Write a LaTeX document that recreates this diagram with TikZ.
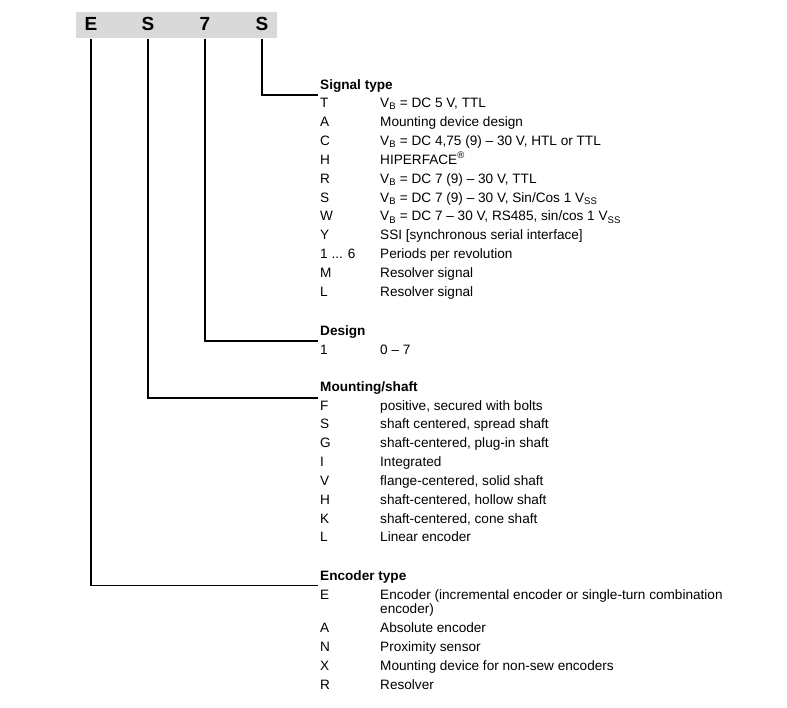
\documentclass[tikz,border=0pt]{standalone}
\usepackage{fontspec}
\setmainfont{Liberation Sans}
\usetikzlibrary{positioning}

\newcommand{\bodysize}{\fontsize{13.6}{16}\selectfont}

\tikzset{
  typebar/.style={fill=black!15, inner sep=0pt, minimum width=201pt, minimum height=25.5pt},
  letter/.style={font=\fontsize{19}{21}\selectfont\bfseries, inner sep=0pt, anchor=base},
  heading/.style={font=\bodysize\bfseries, inner sep=0pt, anchor=base west},
  code/.style={font=\bodysize, inner sep=0pt, anchor=base west},
  descr/.style={font=\bodysize, inner sep=0pt, anchor=base west},
  leader/.style={line width=1.7pt, shorten <=1.5pt}
}

\begin{document}
\begin{tikzpicture}[x=1pt, y=-1pt]
    \useasboundingbox (0,0) rectangle (787,707);

    % Type designation bar
    \node[typebar] (bar) at (176.5,25) {};
    \node[letter] (typeE) at (91,30) {E};
    \node[letter] (typeS) at (148,30) {S};
    \node[letter] (typeN) at (205,30) {7};
    \node[letter] (typeT) at (262,30) {S};

    % Signal type
    \node[heading] (sigHead) at (320,89.5) {Signal type};
    \coordinate (sigTip) at (318,95);
    \foreach \code/\descr [count=\i from 0] in {
        T/{V\textsubscript{B} = DC 5 V, TTL},
        A/Mounting device design,
        C/{V\textsubscript{B} = DC 4,75 (9) – 30 V, HTL or TTL},
        H/HIPERFACE\textsuperscript{®},
        R/{V\textsubscript{B} = DC 7 (9) – 30 V, TTL},
        S/{V\textsubscript{B} = DC 7 (9) – 30 V, Sin/Cos 1 V\textsubscript{SS}},
        W/{V\textsubscript{B} = DC 7 – 30 V, RS485, sin/cos 1 V\textsubscript{SS}},
        Y/SSI [synchronous serial interface],
        {1 ... 6}/Periods per revolution,
        M/Resolver signal,
        L/Resolver signal} {
        \node[code] (sig\i) at (320, 107.5+18.9*\i) {\code};
        \node[descr] (sigd\i) at (380, 107.5+18.9*\i) {\descr};
    }

    % Design
    \node[heading] (desHead) at (320,335.5) {Design};
    \coordinate (desTip) at (318,341);
    \node[code] (des0) at (320,354.5) {1};
    \node[descr] (desd0) at (380,354.5) {0 – 7};

    % Mounting/shaft
    \node[heading] (mntHead) at (320,391) {Mounting/shaft};
    \coordinate (mntTip) at (318,398);
    \foreach \code/\descr [count=\i from 0] in {
        F/{positive, secured with bolts},
        S/{shaft centered, spread shaft},
        G/{shaft-centered, plug-in shaft},
        I/Integrated,
        V/{flange-centered, solid shaft},
        H/{shaft-centered, hollow shaft},
        K/{shaft-centered, cone shaft},
        L/Linear encoder} {
        \node[code] (mnt\i) at (320, 410+18.85*\i) {\code};
        \node[descr] (mntd\i) at (380, 410+18.85*\i) {\descr};
    }

    % Encoder type
    \node[heading] (encHead) at (320,580) {Encoder type};
    \coordinate (encTip) at (318,585.5);
    \node[code] (encE) at (320,599.5) {E};
    \node[descr] (encdE) at (380,599.5) {Encoder (incremental encoder or single-turn combination};
    \node[descr] (encdE2) at (380,613.5) {encoder)};
    \foreach \code/\descr [count=\i from 0] in {
        A/Absolute encoder,
        N/Proximity sensor,
        X/Mounting device for non-sew encoders,
        R/Resolver} {
        \node[code] (enc\i) at (320, 632.5+18.9*\i) {\code};
        \node[descr] (encd\i) at (380, 632.5+18.9*\i) {\descr};
    }

    % Leaders from the letters to the headings
    \draw[leader] (typeT.south |- bar.south) |- (sigTip);
    \draw[leader] (typeN.south |- bar.south) |- (desTip);
    \draw[leader] (typeS.south |- bar.south) |- (mntTip);
    \draw[leader] (typeE.south |- bar.south) |- (encTip);

\end{tikzpicture}
\end{document}
